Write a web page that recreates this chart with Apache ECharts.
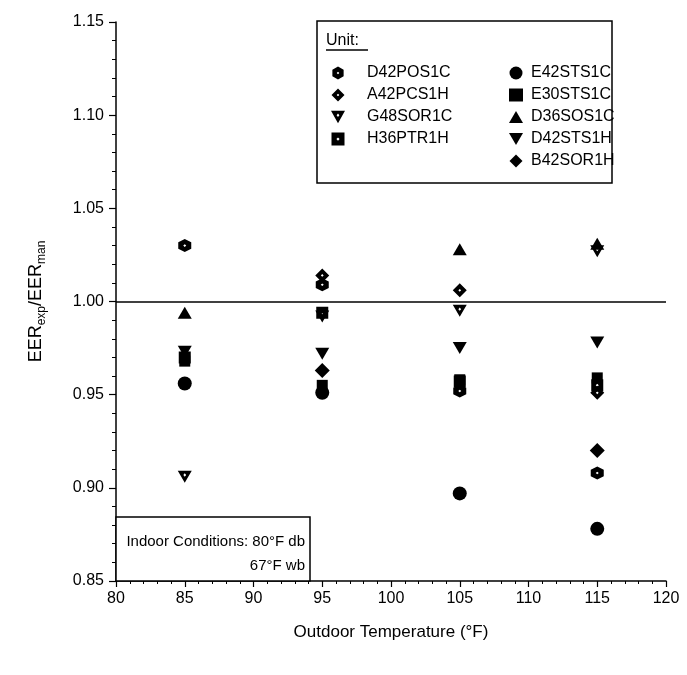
<!DOCTYPE html>
<html>
<head>
<meta charset="utf-8">
<script src="https://cdn.jsdelivr.net/npm/echarts@6/dist/echarts.min.js"></script>
<style>html,body{margin:0;padding:0;background:#fff;}#c{width:687px;height:675px;}</style>
</head>
<body>
<div id="c"></div>
<script>
// ---- data ----
const temps = [85, 95, 105, 115];
const units = ['D42POS1C','A42PCS1H','G48SOR1C','H36PTR1H','E42STS1C','E30STS1C','D36SOS1C','D42STS1H','B42SOR1H'];
const D42POS1C = [1.030, 1.009, 0.952, 0.908];
const A42PCS1H = [null, 1.014, 1.006, 0.951];
const G48SOR1C = [0.906, 0.992, 0.995, 1.027];
const H36PTR1H = [0.970, 0.994, 0.957, 0.955];
const E42STS1C = [0.956, 0.951, 0.897, 0.878];
const E30STS1C = [0.968, 0.955, 0.958, 0.959];
const D36SOS1C = [0.994, null, 1.028, 1.031];
const D42STS1H = [0.973, 0.972, 0.975, 0.978];
const B42SOR1H = [null, 0.963, null, 0.920];
const values = {D42POS1C, A42PCS1H, G48SOR1C, H36PTR1H, E42STS1C, E30STS1C, D36SOS1C, D42STS1H, B42SOR1H};
const xTicks = {min: 80, max: 120, interval: 5};
const yTicks = {min: 0.85, max: 1.15, interval: 0.05};

// ---- symbols ----
const hole = ' M10,8 L8,10 L10,12 L12,10 Z';
const SYM = {
  hexOpen: 'path://M10,0 L18.66,5 L18.66,15 L10,20 L1.34,15 L1.34,5 Z' + hole,
  diaOpen: 'path://M10,0 L20,10 L10,20 L0,10 Z' + hole,
  triDownOpen: 'path://M0,0 L20,0 L10,18 Z M10,4 L8,6.5 L10,9 L12,6.5 Z',
  sqOpen: 'path://M2,2 L18,2 L18,18 L2,18 Z' + hole,
  circle: 'circle',
  square: 'rect',
  triUp: 'path://M10,0 L20,17 L0,17 Z',
  triDown: 'path://M0,0 L20,0 L10,17 Z',
  diamond: 'path://M10,0 L20,10 L10,20 L0,10 Z'
};
const style = {
  D42POS1C: [SYM.hexOpen, [13,13]],
  A42PCS1H: [SYM.diaOpen, [14,14]],
  G48SOR1C: [SYM.triDownOpen, [14,12]],
  H36PTR1H: [SYM.sqOpen, [12,12]],
  E42STS1C: [SYM.circle, [14,14]],
  E30STS1C: [SYM.square, [11,11]],
  D36SOS1C: [SYM.triUp, [14,12]],
  D42STS1H: [SYM.triDown, [14,12]],
  B42SOR1H: [SYM.diamond, [15,15]]
};

const series = units.map((u, k) => {
  const d = [];
  temps.forEach((t, i) => { if (values[u][i] != null) d.push([t, values[u][i]]); });
  const s = {
    name: u, type: 'scatter', data: d,
    symbol: style[u][0], symbolSize: style[u][1],
    itemStyle: {color: '#000', opacity: 1},
    emphasis: {disabled: true},
    z: 3
  };
  if (k === 0) {
    s.markLine = {
      silent: true, symbol: 'none', animation: false,
      label: {show: false},
      lineStyle: {color: '#000', width: 1.5, type: 'solid'},
      data: [{yAxis: 1.0}]
    };
  }
  return s;
});

const font = '"Liberation Sans", Arial, sans-serif';
const legendText1 = {color: '#000', fontSize: 16, fontFamily: font, padding: [0,0,0,17], lineHeight: 16};
const legendText2 = {color: '#000', fontSize: 16, fontFamily: font, padding: [0,0,0,3], lineHeight: 16};

const chart = echarts.init(document.getElementById('c'), null, {renderer: 'canvas'});
chart.setOption({
  animation: false,
  backgroundColor: '#fff',
  grid: {left: 116, right: 21, top: 22, bottom: 94, containLabel: false},
  xAxis: {
    type: 'value', min: xTicks.min, max: xTicks.max, interval: xTicks.interval,
    name: 'Outdoor Temperature (°F)', nameLocation: 'middle', nameGap: 43,
    nameTextStyle: {color: '#000', fontSize: 17, fontFamily: font},
    axisLine: {show: true, lineStyle: {color: '#000', width: 1.5}},
    axisTick: {show: true, length: 6, lineStyle: {color: '#000', width: 1.2}},
    minorTick: {show: true, splitNumber: 5, length: 3, lineStyle: {color: '#000', width: 1}},
    splitLine: {show: false}, minorSplitLine: {show: false},
    axisLabel: {color: '#000', fontSize: 16, fontFamily: font, margin: 10}
  },
  yAxis: {
    type: 'value', min: yTicks.min, max: yTicks.max, interval: yTicks.interval,
    name: '{m|EER}{s|exp}{m|/EER}{s|man}', nameLocation: 'middle', nameGap: 68, nameRotate: 90,
    nameTextStyle: {
      rich: {
        m: {color: '#000', fontSize: 18, fontFamily: font, lineHeight: 24, verticalAlign: 'middle'},
        s: {color: '#000', fontSize: 12, fontFamily: font, lineHeight: 24, verticalAlign: 'bottom', padding: [9,0,0,0]}
      }
    },
    axisLine: {show: true, lineStyle: {color: '#000', width: 1.5}},
    axisTick: {show: true, length: 7, lineStyle: {color: '#000', width: 1.2}},
    minorTick: {show: true, splitNumber: 5, length: 4, lineStyle: {color: '#000', width: 1}},
    splitLine: {show: false}, minorSplitLine: {show: false},
    axisLabel: {color: '#000', fontSize: 16, fontFamily: font, margin: 12,
      formatter: v => v.toFixed(2)}
  },
  legend: [
    {data: units.slice(0, 4), orient: 'vertical', left: 326, top: 60, itemWidth: 14, itemHeight: 13,
     itemGap: 6, textStyle: legendText1, selectedMode: false, itemStyle: {color: '#000'}},
    {data: units.slice(4), orient: 'vertical', left: 504, top: 60, itemWidth: 14, itemHeight: 13,
     itemGap: 6, textStyle: legendText2, selectedMode: false, itemStyle: {color: '#000'}}
  ],
  graphic: [
    {type: 'rect', shape: {x: 317, y: 21, width: 295, height: 162},
     style: {fill: '#fff', stroke: '#000', lineWidth: 1.5}, z: 1},
    {type: 'text', x: 326, y: 41, style: {text: 'Unit:', fill: '#000', fontSize: 16, fontFamily: font, verticalAlign: 'middle'}, z: 5},
    {type: 'line', shape: {x1: 326, y1: 50, x2: 368, y2: 50}, style: {stroke: '#000', lineWidth: 1.3}, z: 5},
    {type: 'rect', shape: {x: 116, y: 517, width: 194, height: 64},
     style: {fill: '#fff', stroke: '#000', lineWidth: 1.5}, z: 1},
    {type: 'text', x: 305, y: 542, style: {text: 'Indoor Conditions: 80°F db', fill: '#000', fontSize: 15, fontFamily: font, align: 'right', verticalAlign: 'middle'}, z: 5},
    {type: 'text', x: 305, y: 566, style: {text: '67°F wb', fill: '#000', fontSize: 15, fontFamily: font, align: 'right', verticalAlign: 'middle'}, z: 5}
  ],
  series: series
});
</script>
</body>
</html>
